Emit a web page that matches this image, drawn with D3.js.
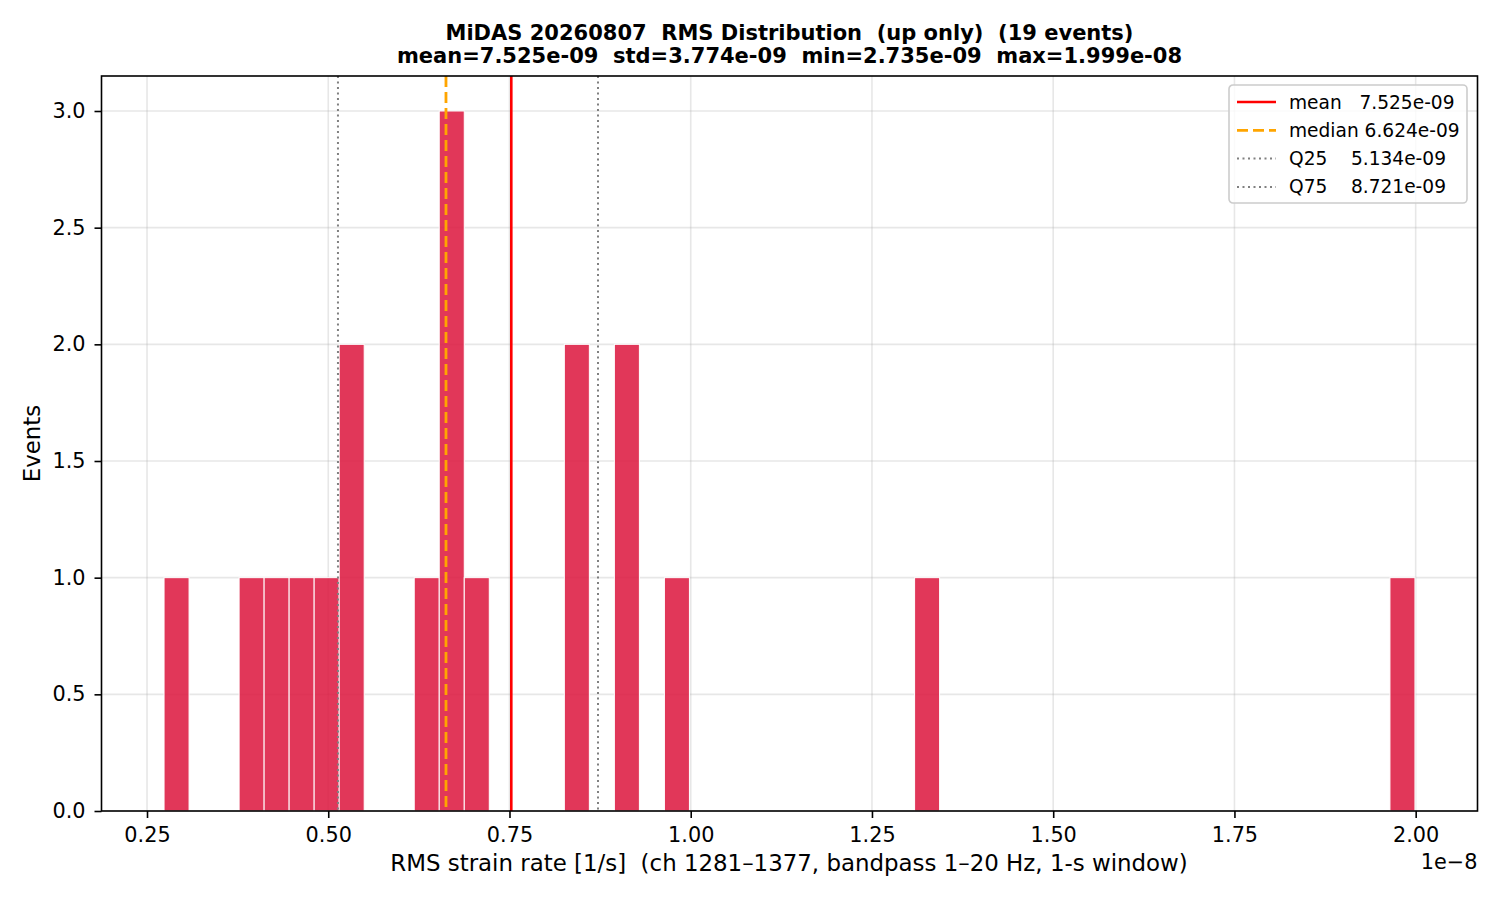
<!DOCTYPE html>
<html>
<head>
<meta charset="utf-8">
<script src="https://cdn.jsdelivr.net/npm/d3@7"></script>
<style>
  body { margin: 0; background: #fff; }
  text { font-family: "DejaVu Sans", sans-serif; fill: #000; white-space: pre; }
</style>
</head>
<body>
<svg id="chart" width="1500" height="900"></svg>
<script>
// histogram counts per bin (50 bins between min and max)
const rmsMin = 2.735e-9
const rmsMax = 1.999e-8
const binCounts = [
  1, 0, 0, 1, 1, 1, 1, 2, 0, 0,
  1, 3, 1, 0, 0, 0, 2, 0, 2, 0,
  1, 0, 0, 0, 0, 0, 0, 0, 0, 0,
  1, 0, 0, 0, 0, 0, 0, 0, 0, 0,
  0, 0, 0, 0, 0, 0, 0, 0, 0, 1
]
const statNames = ['mean', 'median', 'Q25', 'Q75']
const statValues = [7.525e-9, 6.624e-9, 5.134e-9, 8.721e-9]
const statLabels = ['mean   7.525e-09', 'median 6.624e-09', 'Q25    5.134e-09', 'Q75    8.721e-09']
const xTicks = [0.25e-8, 0.5e-8, 0.75e-8, 1.0e-8, 1.25e-8, 1.5e-8, 1.75e-8, 2.0e-8]
const yTicks = [0, 0.5, 1, 1.5, 2, 2.5, 3]
const titleLines = [
  'MiDAS 20260807  RMS Distribution  (up only)  (19 events)',
  'mean=7.525e-09  std=3.774e-09  min=2.735e-09  max=1.999e-08'
]

const box = { left: 101.5, right: 1477.5, top: 76, bottom: 811 }

const statStyle = {
  mean: { color: '#ff0000', width: 2.6, dash: null },
  median: { color: '#ffa500', width: 2.8, dash: '11,5' },
  Q25: { color: '#808080', width: 2, dash: '2,3.5' },
  Q75: { color: '#808080', width: 2, dash: '2,3.5' }
}

const svg = d3.select('#chart')

const span = rmsMax - rmsMin
const x = d3.scaleLinear()
  .domain([rmsMin - span * 0.05, rmsMax + span * 0.05])
  .range([box.left, box.right])
const y = d3.scaleLinear().domain([0, 3.15]).range([box.bottom, box.top])

const binW = span / binCounts.length
const bins = binCounts.map((c, i) => ({ x0: rmsMin + i * binW, x1: rmsMin + (i + 1) * binW, count: c }))

// grid
const grid = svg.append('g')
grid.selectAll('.gx').data(xTicks).join('line')
  .attr('x1', d => x(d)).attr('x2', d => x(d))
  .attr('y1', box.top).attr('y2', box.bottom)
  .attr('stroke', '#b0b0b0').attr('stroke-opacity', 0.3).attr('stroke-width', 1.6)
grid.selectAll('.gy').data(yTicks).join('line')
  .attr('x1', box.left).attr('x2', box.right)
  .attr('y1', d => y(d)).attr('y2', d => y(d))
  .attr('stroke', '#b0b0b0').attr('stroke-opacity', 0.3).attr('stroke-width', 1.6)

// bars
svg.append('g').selectAll('rect').data(bins.filter(b => b.count > 0)).join('rect')
  .attr('x', d => x(d.x0))
  .attr('width', d => x(d.x1) - x(d.x0))
  .attr('y', d => y(d.count))
  .attr('height', d => y(0) - y(d.count))
  .attr('fill', '#dc143c').attr('fill-opacity', 0.85)
  .attr('stroke', '#ffffff').attr('stroke-width', 1)

// stat lines
svg.append('g').selectAll('line').data(statNames).join('line')
  .attr('x1', (d, i) => x(statValues[i])).attr('x2', (d, i) => x(statValues[i]))
  .attr('y1', box.top).attr('y2', box.bottom)
  .attr('stroke', d => statStyle[d].color)
  .attr('stroke-width', d => statStyle[d].width)
  .attr('stroke-dasharray', d => statStyle[d].dash)

// axes
const xAxis = d3.axisBottom(x).tickValues(xTicks).tickSize(7).tickPadding(9)
  .tickFormat(d => (d / 1e-8).toFixed(2))
const gx = svg.append('g').attr('transform', `translate(0,${box.bottom})`).call(xAxis)
const yAxis = d3.axisLeft(y).tickValues(yTicks).tickSize(7).tickPadding(9)
  .tickFormat(d3.format('.1f'))
const gy = svg.append('g').attr('transform', `translate(${box.left},0)`).call(yAxis)
for (const g of [gx, gy]) {
  g.select('.domain').remove()
  g.selectAll('.tick line').attr('stroke', '#000').attr('stroke-width', 1.6)
  g.selectAll('.tick text').style('font-family', 'DejaVu Sans').style('font-size', '20.8px').attr('fill', '#000')
}

// frame
svg.append('rect')
  .attr('x', box.left).attr('y', box.top)
  .attr('width', box.right - box.left).attr('height', box.bottom - box.top)
  .attr('fill', 'none').attr('stroke', '#000').attr('stroke-width', 1.6)

// offset text
svg.append('text').attr('x', box.right).attr('y', 869)
  .attr('text-anchor', 'end').style('font-size', '20.8px').text('1e\u22128')

// axis labels
svg.append('text').attr('x', (box.left + box.right) / 2 - 0.5).attr('y', 871)
  .attr('text-anchor', 'middle').style('font-size', '22.9px')
  .text('RMS strain rate [1/s]  (ch 1281\u20131377, bandpass 1\u201320 Hz, 1-s window)')
svg.append('text')
  .attr('transform', `translate(40,${(box.top + box.bottom) / 2}) rotate(-90)`)
  .attr('text-anchor', 'middle').style('font-size', '22.9px').text('Events')

// title
svg.append('g').selectAll('text').data(titleLines).join('text')
  .attr('x', (box.left + box.right) / 2)
  .attr('y', (d, i) => 40 + i * 23)
  .attr('text-anchor', 'middle')
  .style('font-size', '21px').style('font-weight', 'bold')
  .text(d => d)

// legend
const lg = svg.append('g').attr('transform', 'translate(1229,85)')
lg.append('rect').attr('width', 238).attr('height', 118).attr('rx', 4)
  .attr('fill', '#fff').attr('fill-opacity', 0.8)
  .attr('stroke', '#cccccc').attr('stroke-width', 1.6)
const rows = lg.selectAll('.row').data(statNames).join('g')
  .attr('transform', (d, i) => `translate(0,${17 + i * 28.3})`)
rows.append('line').attr('x1', 8).attr('x2', 47)
  .attr('stroke', d => statStyle[d].color)
  .attr('stroke-width', d => statStyle[d].width)
  .attr('stroke-dasharray', d => statStyle[d].dash)
rows.append('text').attr('x', 60).attr('dy', '0.35em')
  .style('font-size', '18.6px')
  .text((d, i) => statLabels[i])
</script>
</body>
</html>
